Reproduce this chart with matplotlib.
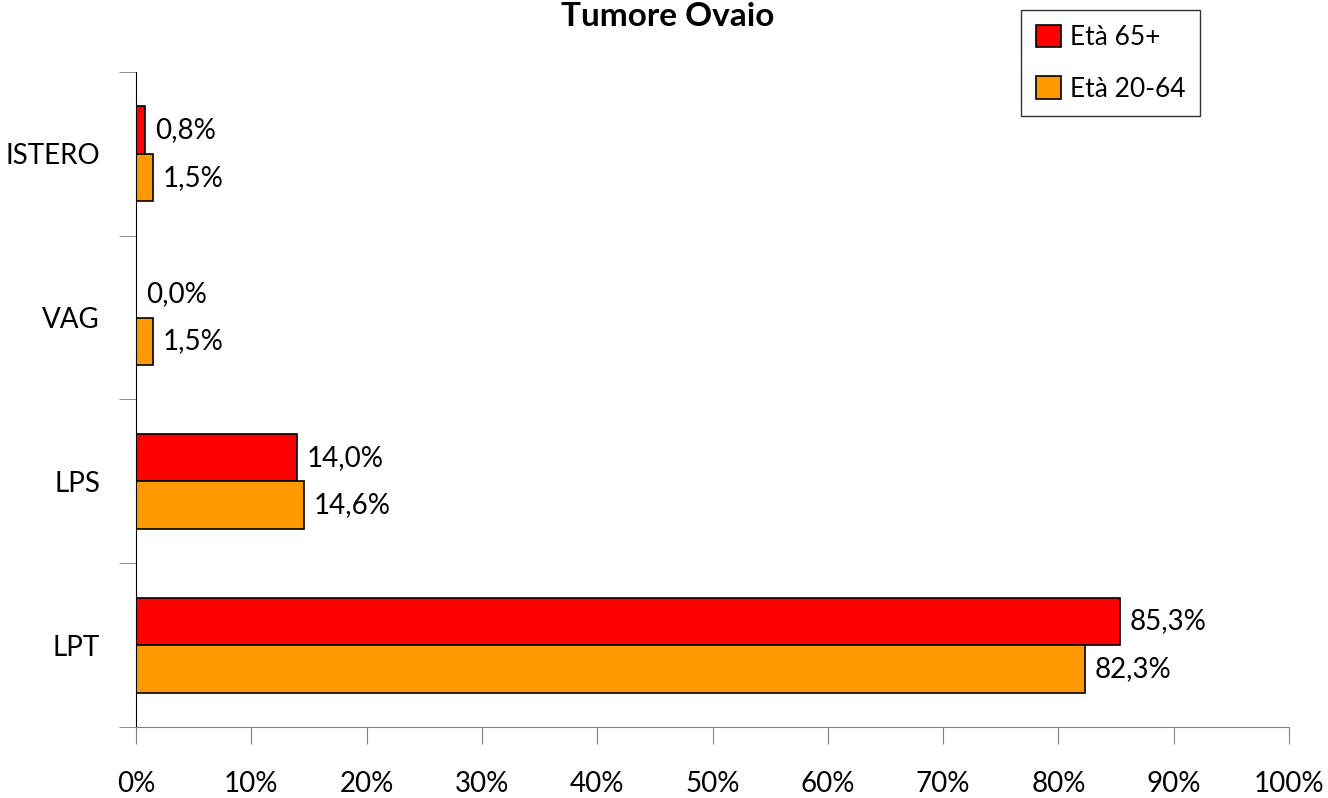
import matplotlib.pyplot as plt
import numpy as np

plt.rcParams['font.family'] = ['Lato', 'DejaVu Sans']

categories = ['LPT', 'LPS', 'VAG', 'ISTERO']
eta_65 = [85.3, 14.0, 0.0, 0.8]
eta_20_64 = [82.3, 14.6, 1.5, 1.5]
x_ticks = list(range(0, 101, 10))

fig = plt.figure(figsize=(13.28, 7.98), dpi=100)
ax = fig.add_axes([0.1024, 0.089, 0.8683, 0.8208])

y = np.arange(len(categories))
h = 0.29
ax.barh(y + h / 2, eta_65, height=h, color='#ff0000', edgecolor='black', linewidth=1.2, label='Età 65+')
ax.barh(y - h / 2, eta_20_64, height=h, color='#ff9900', edgecolor='black', linewidth=1.2, label='Età 20-64')

def fmt(v):
    return ('%.1f%%' % v).replace('.', ',')

for yy, v in zip(y + h / 2, eta_65):
    ax.annotate(fmt(v), (v, yy), xytext=(7, 0), textcoords='offset points',
                va='center', ha='left', fontsize=20)
for yy, v in zip(y - h / 2, eta_20_64):
    ax.annotate(fmt(v), (v, yy), xytext=(7, 0), textcoords='offset points',
                va='center', ha='left', fontsize=20)

ax.set_xlim(0, 100)
ax.set_ylim(-0.5, len(categories) - 0.5)
ax.set_xticks(x_ticks)
ax.set_xticklabels(['%d%%' % t for t in x_ticks], fontsize=20)
ax.set_yticks(y)
ax.set_yticklabels(categories, fontsize=20)
ax.set_yticks(np.arange(-0.5, len(categories), 1), minor=True)
ax.tick_params(axis='y', which='major', length=0, pad=26)
ax.tick_params(axis='y', which='minor', length=12, color='#808080', direction='out')
ax.tick_params(axis='x', which='major', length=12, color='#808080', direction='out', pad=20)

for s in ['top', 'right']:
    ax.spines[s].set_visible(False)
ax.spines['left'].set_color('black')
ax.spines['bottom'].set_color('#808080')

# il titolo nell'originale è tagliato in alto: qui lo teniamo appena visibile
fig.text(0.503, 1 - 26 / 798, 'Tumore Ovaio', ha='center', va='baseline',
         fontsize=24, fontweight='bold')

leg = ax.legend(loc='upper left', bbox_to_anchor=(1021 / 1328, 1 - 10 / 798),
                bbox_transform=fig.transFigure, fontsize=19, frameon=True,
                fancybox=False, edgecolor='black', handlelength=0.95, handleheight=0.95,
                handletextpad=0.35, labelspacing=1.0, borderpad=0.55, borderaxespad=0)
leg.get_frame().set_linewidth(1.0)

fig.savefig('out.png', dpi=100)
